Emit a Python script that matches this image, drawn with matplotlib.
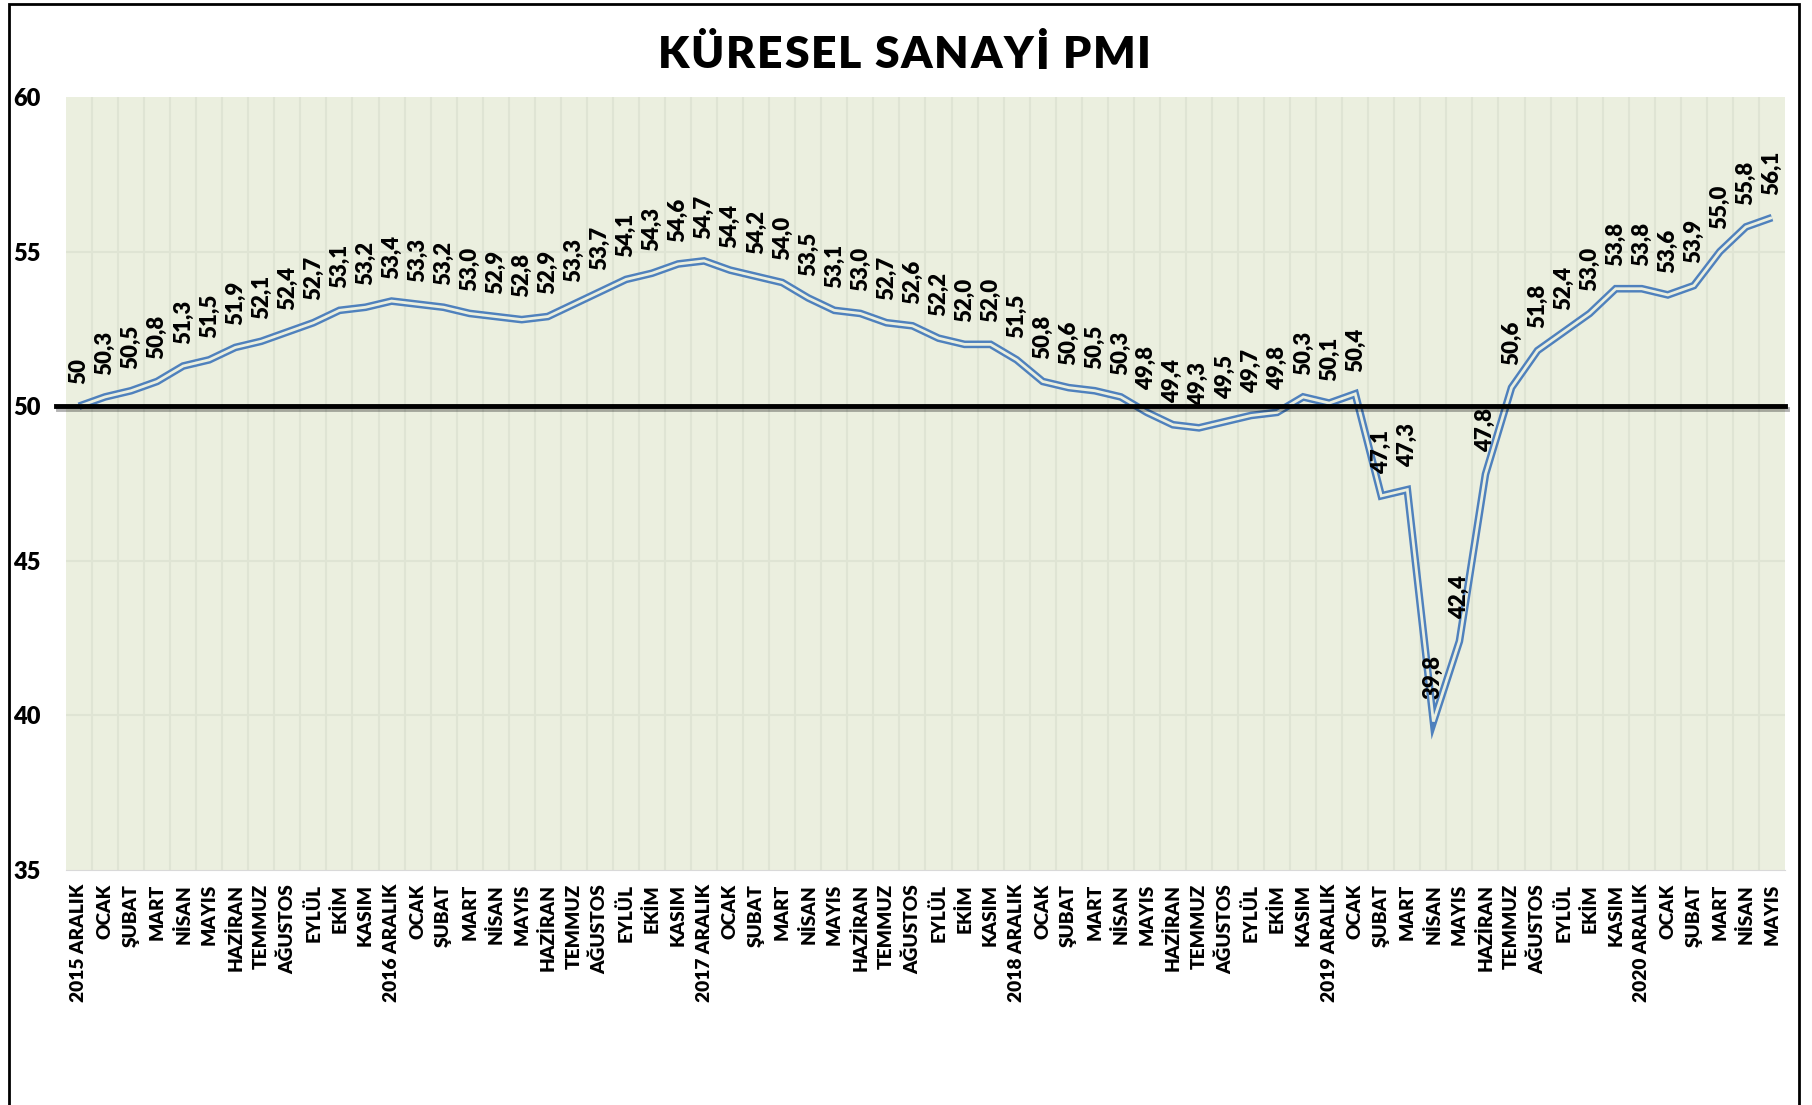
import matplotlib
matplotlib.use("Agg")
import matplotlib.pyplot as plt
import matplotlib.patheffects as pe
from matplotlib.patches import Rectangle

plt.rcParams['font.family'] = ['Lato', 'DejaVu Sans']

aylar = ["OCAK", "ŞUBAT", "MART", "NİSAN", "MAYIS", "HAZİRAN", "TEMMUZ",
         "AĞUSTOS", "EYLÜL", "EKİM", "KASIM"]
kategoriler = ["2015 ARALIK"] + aylar + ["2016 ARALIK"] + aylar + ["2017 ARALIK"] + aylar \
    + ["2018 ARALIK"] + aylar + ["2019 ARALIK"] + aylar + ["2020 ARALIK"] + aylar[:5]

pmi = [50.0, 50.3, 50.5, 50.8, 51.3, 51.5, 51.9, 52.1, 52.4, 52.7, 53.1, 53.2,
       53.4, 53.3, 53.2, 53.0, 52.9, 52.8, 52.9, 53.3, 53.7, 54.1, 54.3, 54.6,
       54.7, 54.4, 54.2, 54.0, 53.5, 53.1, 53.0, 52.7, 52.6, 52.2, 52.0, 52.0,
       51.5, 50.8, 50.6, 50.5, 50.3, 49.8, 49.4, 49.3, 49.5, 49.7, 49.8, 50.3,
       50.1, 50.4, 47.1, 47.3, 39.8, 42.4, 47.8, 50.6, 51.8, 52.4, 53.0, 53.8,
       53.8, 53.6, 53.9, 55.0, 55.8, 56.1]

baslik = "KÜRESEL SANAYİ PMI"

bg = '#EBEFDF'
agirlik = 'heavy'
x = list(range(len(pmi)))

fig = plt.figure(figsize=(18.12, 11.05), dpi=100)
ax = fig.add_axes([0.0364, 0.2127, 0.9487, 0.6995])
ax.set_facecolor(bg)

# izgara
for k in range(len(pmi) - 1):
    ax.axvline(k + 0.5, color='#DFE4D4', lw=1.5, zorder=1)
for yy in [40, 45, 55]:
    ax.axhline(yy, color='#DFE4D4', lw=1.5, zorder=1)

# çift çizgi
ax.plot(x, pmi, color='#4F81BD', lw=5.5, solid_joinstyle='miter', solid_capstyle='butt', zorder=3)
ax.plot(x, pmi, color=bg, lw=2.0, solid_joinstyle='miter', solid_capstyle='butt', zorder=4)

# 50 çizgisi
ax.axhline(50, xmin=-0.006, xmax=1, color='black', lw=3.5, zorder=5, clip_on=False,
           path_effects=[pe.SimpleLineShadow(offset=(1.5, -2), alpha=0.3), pe.Normal()])

for i, v in enumerate(pmi):
    lbl = "50" if i == 0 else f"{v:.1f}".replace('.', ',')
    ax.annotate(lbl, (i, v), xytext=(0, 16), textcoords='offset points',
                rotation=90, ha='center', va='bottom', fontsize=16,
                fontweight=agirlik, zorder=6)

ax.set_xlim(-0.5, len(pmi) - 0.5)
ax.set_ylim(35, 60)
ax.set_yticks([35, 40, 45, 50, 55, 60])
ax.set_xticks(x)
ax.set_xticklabels(kategoriler, rotation=90, fontsize=13.8, fontweight=agirlik)
for t in ax.get_yticklabels():
    t.set_fontweight(agirlik)
    t.set_fontsize(17)
ax.tick_params(axis='y', length=0, pad=18)
ax.tick_params(axis='x', length=0, pad=10)
for s in ax.spines.values():
    s.set_visible(False)
ax.spines['bottom'].set_visible(True)
ax.spines['bottom'].set_color('#D9D9D9')

# başlık, harf aralıklı
renderer = fig.canvas.get_renderer()
harf_aralik = 1.8  # piksel
genislikler = []
for ch in baslik:
    t = fig.text(0, 0, ch if ch != ' ' else 'i', fontsize=32, fontweight=agirlik)
    w = t.get_window_extent(renderer).width
    genislikler.append(w * 0.8 if ch == ' ' else w)
    t.remove()
toplam = sum(genislikler) + harf_aralik * (len(baslik) - 1)
xpix = 0.499 * fig.bbox.width - toplam / 2
for ch, w in zip(baslik, genislikler):
    if ch != ' ':
        fig.text(xpix / fig.bbox.width, 0.950, ch, ha='left', va='center',
                 fontsize=32, fontweight=agirlik)
    xpix += w + harf_aralik

fig.patches.append(Rectangle((9 / 1812, -0.05), 1790 / 1812, 1.05 - 4 / 1105,
                             transform=fig.transFigure, fill=False,
                             edgecolor='black', lw=2))

plt.savefig("out.png", dpi=100)
